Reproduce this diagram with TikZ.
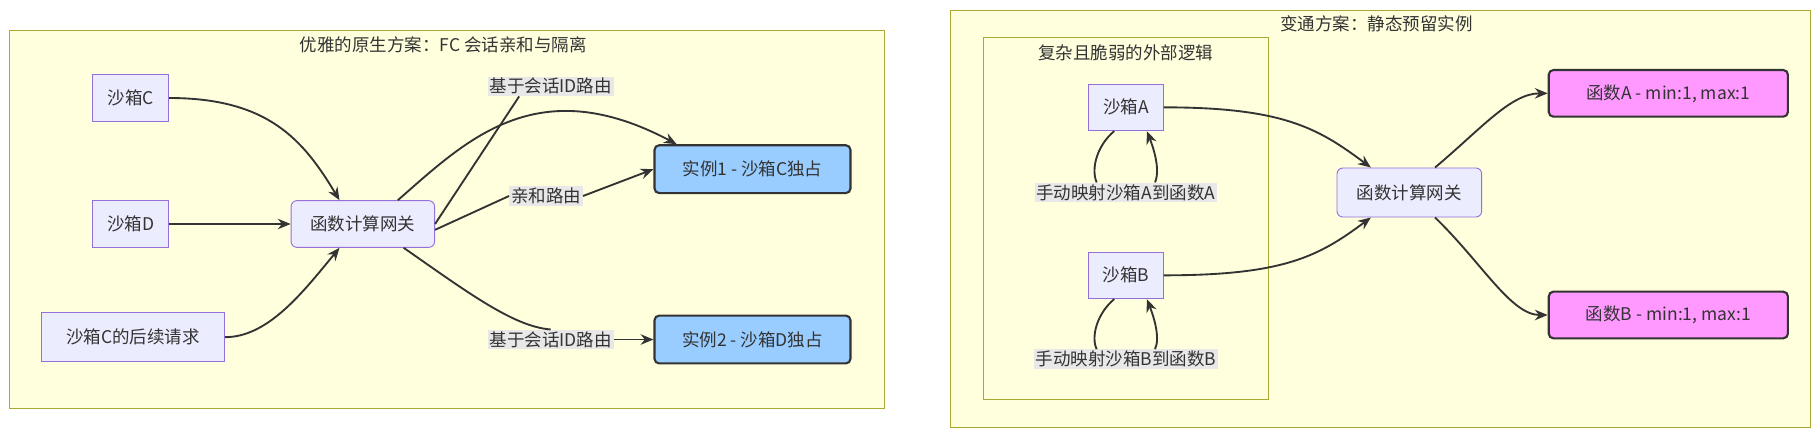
\documentclass[tikz,border=0pt]{standalone}
\usepackage{fontspec}
\setmainfont{Noto Sans CJK SC}
\usetikzlibrary{arrows.meta}
\definecolor{clfill}{HTML}{FFFFDE}
\definecolor{clline}{HTML}{AAAA33}
\definecolor{nfill}{HTML}{ECECFF}
\definecolor{nline}{HTML}{9370DB}
\definecolor{blue1}{HTML}{99CCFF}
\definecolor{pink1}{HTML}{FF99FF}
\definecolor{lbl}{HTML}{E8E8E8}
\definecolor{ink}{HTML}{333333}
\begin{document}
\begin{tikzpicture}[x=1pt,y=-1pt,
  every node/.style={font=\fontsize{15}{18}\selectfont, text=ink},
  cluster/.style={draw=clline, fill=clfill, line width=0.8pt},
  plain/.style={draw=nline, fill=nfill, line width=0.8pt, inner sep=0pt},
  roundn/.style={plain, rounded corners=5pt},
  inst/.style={draw=ink, fill=blue1, line width=1.8pt, rounded corners=4pt, inner sep=0pt},
  func/.style={draw=ink, fill=pink1, line width=1.8pt, rounded corners=4pt, inner sep=0pt},
  elabel/.style={fill=lbl, inner sep=1.5pt},
  conn/.style={draw=ink, line width=1.6pt, -{Stealth[length=11pt,width=9pt]}},
  line/.style={draw=ink, line width=1.6pt}]
\useasboundingbox (0,0) rectangle (1560,373);
\fill[white] (0,0) rectangle (1560,373);
% left cluster
\draw[cluster] (8,26) rectangle (758,350);
\node (t1) at (380,38) {优雅的原生方案：FC 会话亲和与隔离};
\node[plain, minimum width=65pt, minimum height=40pt] (sc) at (112,84) {沙箱C};
\node[plain, minimum width=65pt, minimum height=40pt] (sd) at (112,192) {沙箱D};
\node[plain, minimum width=157pt, minimum height=42pt] (scf) at (114,289) {沙箱C的后续请求};
\node[roundn, minimum width=123pt, minimum height=40pt] (gw) at (311,192) {函数计算网关};
\node[inst, minimum width=168pt, minimum height=41pt] (i1) at (645,145) {实例1 - 沙箱C独占};
\node[inst, minimum width=168pt, minimum height=41pt] (i2) at (645,291) {实例2 - 沙箱D独占};
\draw[conn] (sc.east) .. controls (230,84) and (260,120) .. ([xshift=-20pt]gw.north);
\draw[conn] (sd.east) -- (gw.west);
\draw[conn] (scf.east) .. controls (230,289) and (260,250) .. ([xshift=-20pt]gw.south);
\draw[conn] ([xshift=30pt]gw.north) .. controls (400,120) and (460,60) .. ([xshift=-65pt]i1.north);
\node[elabel] (l1) at (472,74) {基于会话ID路由};
\draw[line] (gw.east) -- (l1.south -| 445,178) coordinate (m1);
\node[elabel] (l2) at (468,168) {亲和路由};
\draw[line] ([yshift=-5pt]gw.east) -- (l2.west);
\draw[conn] (l2.east) -- (i1.west);
\node[elabel] (l3) at (472,291) {基于会话ID路由};
\draw[line] ([xshift=35pt]gw.south) .. controls (400,250) and (440,280) .. (l3.north);
\draw[conn] (l3.east) -- (i2.west);
% right cluster
\draw[cluster] (815,9) rectangle (1552,366);
\node (t2) at (1180,20) {变通方案：静态预留实例};
\draw[cluster] (843,32) rectangle (1087,342);
\node (t3) at (965,45) {复杂且脆弱的外部逻辑};
\node[plain, minimum width=64pt, minimum height=40pt] (sa) at (965,92) {沙箱A};
\node[plain, minimum width=64pt, minimum height=40pt] (sb) at (965,236) {沙箱B};
\node[elabel] (la) at (965,165) {手动映射沙箱A到函数A};
\node[elabel] (lb) at (965,308) {手动映射沙箱B到函数B};
\draw[line] ([xshift=-10pt]sa.south) .. controls (940,125) and (935,145) .. ([xshift=-25pt]la.north);
\draw[conn] ([xshift=25pt]la.north) .. controls (995,145) and (988,125) .. ([xshift=18pt]sa.south);
\draw[line] ([xshift=-10pt]sb.south) .. controls (940,269) and (935,289) .. ([xshift=-25pt]lb.north);
\draw[conn] ([xshift=25pt]lb.north) .. controls (995,289) and (988,269) .. ([xshift=18pt]sb.south);
\node[roundn, minimum width=124pt, minimum height=42pt] (gw2) at (1208,165) {函数计算网关};
\node[func, minimum width=205pt, minimum height=40pt] (fa) at (1430,80) {函数A - min:1, max:1};
\node[func, minimum width=205pt, minimum height=40pt] (fb) at (1430,270) {函数B - min:1, max:1};
\draw[conn] (sa.east) .. controls (1100,92) and (1130,110) .. ([xshift=-33pt]gw2.north);
\draw[conn] (sb.east) .. controls (1100,236) and (1130,220) .. ([xshift=-33pt]gw2.south);
\draw[conn] ([xshift=22pt]gw2.north) .. controls (1270,110) and (1295,80) .. (fa.west);
\draw[conn] ([xshift=22pt]gw2.south) .. controls (1270,225) and (1295,270) .. (fb.west);
\end{tikzpicture}
\end{document}
